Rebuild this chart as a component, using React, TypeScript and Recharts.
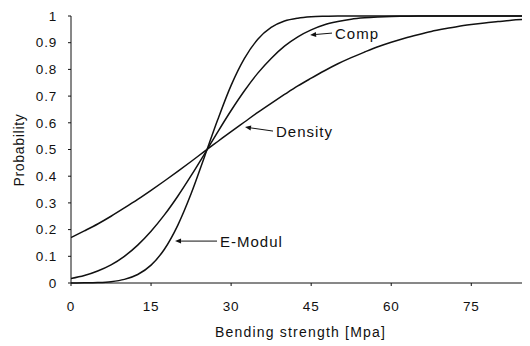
import React from 'react';
import { LineChart, Line, XAxis, YAxis, ReferenceLine } from 'recharts';

const xs = [0, 2.5, 5, 7.5, 10, 12.5, 15, 17.5, 20, 22.5, 25, 27.5, 30, 32.5, 35, 37.5, 40, 42.5, 45, 47.5, 50, 52.5, 55, 57.5, 60, 62.5, 65, 67.5, 70, 72.5, 75, 77.5, 80, 82.5, 85];
const density = [0.170, 0.195, 0.221, 0.250, 0.281, 0.313, 0.347, 0.382, 0.418, 0.455, 0.493, 0.530, 0.567, 0.603, 0.639, 0.673, 0.706, 0.738, 0.767, 0.795, 0.821, 0.844, 0.865, 0.885, 0.902, 0.917, 0.930, 0.942, 0.952, 0.961, 0.968, 0.974, 0.979, 0.984, 0.987];
const comp = [0.017, 0.028, 0.045, 0.068, 0.100, 0.142, 0.194, 0.255, 0.325, 0.402, 0.483, 0.566, 0.646, 0.720, 0.786, 0.841, 0.887, 0.922, 0.948, 0.967, 0.979, 0.988, 0.993, 0.996, 0.998, 0.999, 1, 1, 1, 1, 1, 1, 1, 1, 1];
const emodul = [0.0001, 0.0005, 0.0017, 0.0051, 0.0135, 0.0317, 0.0668, 0.1265, 0.216, 0.334, 0.472, 0.612, 0.740, 0.841, 0.913, 0.957, 0.981, 0.992, 0.997, 0.999, 1, 1, 1, 1, 1, 1, 1, 1, 1, 1, 1, 1, 1, 1, 1];

const xTicks = [0, 15, 30, 45, 60, 75];
const yTicks = [0, 0.1, 0.2, 0.3, 0.4, 0.5, 0.6, 0.7, 0.8, 0.9, 1];

const annotLabels = ['Comp', 'Density', 'E-Modul'];
const annotTipX = [44.8, 32.6, 19.5];
const annotTipY = [0.929, 0.584, 0.157];
const annotTailX = [48.9, 37.85, 27.36];
const annotTailY = [0.936, 0.569, 0.157];

const data = xs.map((x, i) => ({ x, density: density[i], comp: comp[i], emodul: emodul[i] }));

const FONT = '"Liberation Sans", Arial, sans-serif';
const INK = '#111';

const makeArrow = (label: string) => (props: any) => {
  const { x1, y1, x2, y2 } = props;
  const dx = x1 - x2;
  const dy = y1 - y2;
  const len = Math.sqrt(dx * dx + dy * dy) || 1;
  const ux = dx / len;
  const uy = dy / len;
  const hl = 6;
  const hw = 2.5;
  const bx = x1 - ux * hl;
  const by = y1 - uy * hl;
  const p1 = `${x1},${y1}`;
  const p2 = `${bx - uy * hw},${by + ux * hw}`;
  const p3 = `${bx + uy * hw},${by - ux * hw}`;
  return (
    <g>
      <line x1={bx} y1={by} x2={x2} y2={y2} stroke={INK} strokeWidth={1} />
      <polygon points={`${p1} ${p2} ${p3}`} fill={INK} />
      <text x={x2 + 3} y={y2} dominantBaseline="central" fontFamily={FONT} fontSize={15} letterSpacing={1} fill={INK}>
        {label}
      </text>
    </g>
  );
};

const YLabel = () => (
  <text
    x={11}
    y={142}
    transform="rotate(-90, 11, 142)"
    textAnchor="middle"
    dominantBaseline="central"
    fontFamily={FONT}
    fontSize={14}
    letterSpacing={0.7}
    fill={INK}
  >
    Probability
  </text>
);

export default function App() {
  return (
    <div style={{ width: 522, height: 338 }}>
      <LineChart width={522} height={338} data={data} margin={{ top: 8, right: 0, bottom: 21, left: 0 }}>
        <XAxis
          dataKey="x"
          type="number"
          domain={[0, 86]}
          ticks={xTicks}
          allowDataOverflow
          stroke={INK}
          tickSize={3}
          tickMargin={15}
          height={42}
          tick={{ fontFamily: FONT, fontSize: 13.5, letterSpacing: 0.8, fill: INK }}
          label={{ value: 'Bending strength [Mpa]', position: 'bottom', offset: 2, fontFamily: FONT, fontSize: 14, letterSpacing: 1.2, fill: INK }}
        />
        <YAxis
          type="number"
          domain={[0, 1]}
          ticks={yTicks}
          width={63}
          stroke={INK}
          tickSize={3}
          tickMargin={11}
          interval={0}
          tick={{ fontFamily: FONT, fontSize: 13.5, letterSpacing: 0.8, fill: INK }}
          tickFormatter={(v: number) => String(Math.round(v * 10) / 10)}
          label={{ content: () => <YLabel /> }}
        />
        <Line type="monotone" dataKey="density" stroke={INK} strokeWidth={1.5} dot={false} isAnimationActive={false} />
        <Line type="monotone" dataKey="comp" stroke={INK} strokeWidth={1.5} dot={false} isAnimationActive={false} />
        <Line type="monotone" dataKey="emodul" stroke={INK} strokeWidth={1.5} dot={false} isAnimationActive={false} />
        {annotLabels.map((lab, i) => (
          <ReferenceLine
            key={lab}
            segment={[{ x: annotTipX[i], y: annotTipY[i] }, { x: annotTailX[i], y: annotTailY[i] }]}
            ifOverflow="visible"
            shape={makeArrow(lab)}
          />
        ))}
      </LineChart>
    </div>
  );
}
